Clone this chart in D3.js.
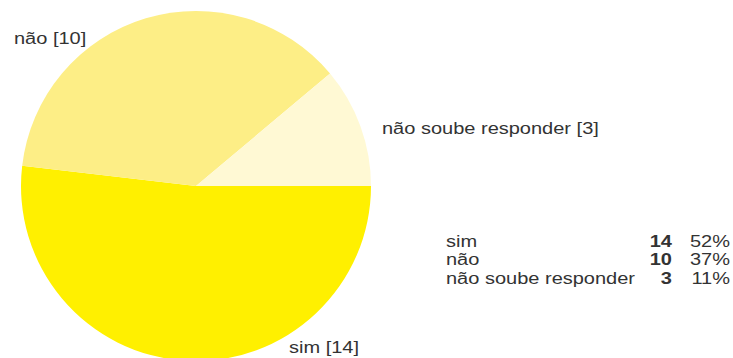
<!DOCTYPE html>
<html><head><meta charset="utf-8">
<script src="https://cdn.jsdelivr.net/npm/d3@7"></script>
<style>body{margin:0;background:#fff}svg{display:block}text{font-family:"Liberation Sans",Arial,Helvetica,sans-serif;fill:#333}</style>
</head><body>
<script>
const categories = ["sim", "não", "não soube responder"];
const counts = [14, 10, 3];
const percents = ["52%", "37%", "11%"];
const colors = ["#FFF000", "#FDEE86", "#FFF9D4"];

const W = 733, H = 358;
const SX = 1.25, FS = 16;
const svg = d3.select("body").append("svg").attr("width", W).attr("height", H);

function addText(parent, x, y, str, anchor, bold) {
  const t = parent.append("text")
    .attr("transform", `translate(${x},${y}) scale(${SX},1)`)
    .attr("font-size", FS)
    .attr("text-anchor", anchor || "start")
    .text(str);
  if (bold) t.attr("font-weight", "bold");
  return t;
}

// cropped title (only the descender is visible at top)
addText(svg, 80, -6, "g");

const cx = 196, cy = 186, r = 175;
const pie = d3.pie().sort(null).startAngle(Math.PI/2).endAngle(Math.PI/2 + 2*Math.PI);
const arcs = pie(counts);
const arc = d3.arc().innerRadius(0).outerRadius(r);
const g = svg.append("g").attr("transform", `translate(${cx},${cy})`);
g.selectAll("path").data(arcs).join("path").attr("d", arc).attr("fill", (d,i)=>colors[i]);

const labelPos = [[289, 353], [14, 44], [382, 134]];
arcs.forEach((d,i) => addText(svg, labelPos[i][0], labelPos[i][1], `${categories[i]} [${counts[i]}]`));

categories.forEach((c,i) => {
  const y = 246.5 + i*18.5;
  addText(svg, 446, y, c);
  addText(svg, 672, y, String(counts[i]), "end", true);
  addText(svg, 730, y, percents[i], "end");
});
</script>
</body></html>
